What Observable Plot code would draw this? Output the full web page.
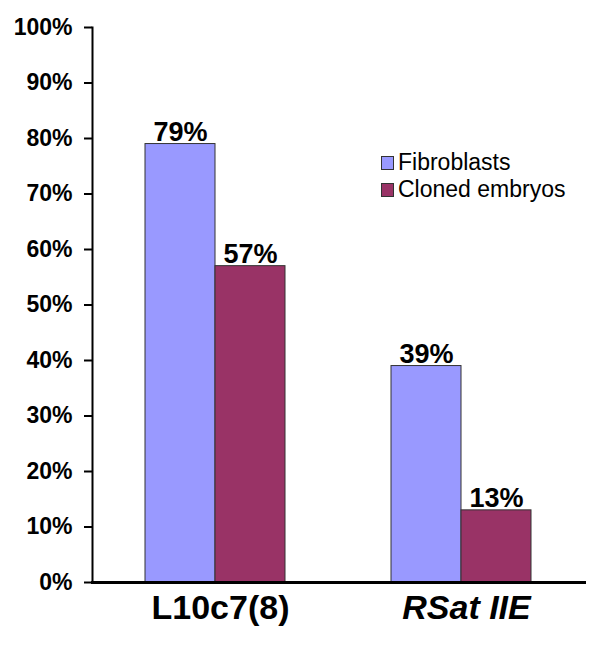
<!DOCTYPE html>
<html>
<head>
<meta charset="utf-8">
<script src="https://cdn.jsdelivr.net/npm/d3@7"></script>
<script src="https://cdn.jsdelivr.net/npm/@observablehq/plot@0.6"></script>
<style>
  html, body { margin: 0; padding: 0; background: #fff; }
  #wrap { position: relative; width: 600px; height: 647px; font-family: "Liberation Sans", Arial, sans-serif; }
  #legend { position: absolute; left: 381px; top: 149px; font-size: 23px; color: #000; line-height: 27px; }
  #legend .row { display: flex; align-items: center; }
  #legend .sw { width: 11px; height: 12px; border: 1px solid #333; margin-right: 4px; }
</style>
</head>
<body>
<div id="wrap"><div id="legend"></div></div>
<script>
const categories = ["L10c7(8)", "RSat IIE"];
const series = ["Fibroblasts", "Cloned embryos"];
const fibroblasts = [0.79, 0.39];
const cloned = [0.57, 0.13];
const colors = ["#9999FF", "#993366"];
const yTicks = [0, 0.1, 0.2, 0.3, 0.4, 0.5, 0.6, 0.7, 0.8, 0.9, 1.0];

const rows = [];
categories.forEach((c, i) => {
  rows.push({category: c, series: series[0], value: fibroblasts[i]});
  rows.push({category: c, series: series[1], value: cloned[i]});
});

const pct = d3.format(".0%");

const chart = Plot.plot({
  width: 600,
  height: 647,
  marginLeft: 91,
  marginRight: 16,
  marginTop: 27,
  marginBottom: 65,
  style: {fontFamily: "'Liberation Sans', Arial, sans-serif", background: "white", color: "#000"},
  fx: {domain: categories, padding: 0, axis: null},
  x: {domain: series, axis: null, paddingInner: 0, paddingOuter: 0.736},
  y: {domain: [0, 1], axis: null},
  color: {domain: series, range: colors},
  marks: [
    Plot.barY(rows, {fx: "category", x: "series", y: "value", fill: "series", stroke: "#333", strokeWidth: 1}),
    Plot.text(rows, {fx: "category", x: "series", y: "value", text: d => pct(d.value), lineAnchor: "bottom", dy: -3, fontSize: 27, fontWeight: "bold", fill: "#000"}),
    Plot.axisY({ticks: yTicks, tickFormat: pct, tickSize: 8, tickPadding: 12, strokeWidth: 2, fontSize: 23, fontWeight: "bold", label: null}),
    Plot.frame({anchor: "left", facetAnchor: "left", strokeWidth: 2}),
    Plot.frame({anchor: "bottom", strokeWidth: 3}),
    Plot.text([categories[0]], {fx: d => d, text: d => d, frameAnchor: "bottom", lineAnchor: "top", dy: 12, dx: 5, fontSize: 34, fontWeight: "bold", fill: "#000"}),
    Plot.text([categories[1]], {fx: d => d, text: d => d, frameAnchor: "bottom", lineAnchor: "top", dy: 12, dx: 5, fontSize: 34, fontWeight: "bold", fontStyle: "italic", fill: "#000"})
  ]
});

const wrap = document.getElementById("wrap");
wrap.insertBefore(chart, wrap.firstChild);

const legend = document.getElementById("legend");
series.forEach((s, i) => {
  const row = document.createElement("div");
  row.className = "row";
  const sw = document.createElement("span");
  sw.className = "sw";
  sw.style.background = colors[i];
  const t = document.createElement("span");
  t.textContent = s;
  row.appendChild(sw);
  row.appendChild(t);
  legend.appendChild(row);
});
</script>
</body>
</html>
